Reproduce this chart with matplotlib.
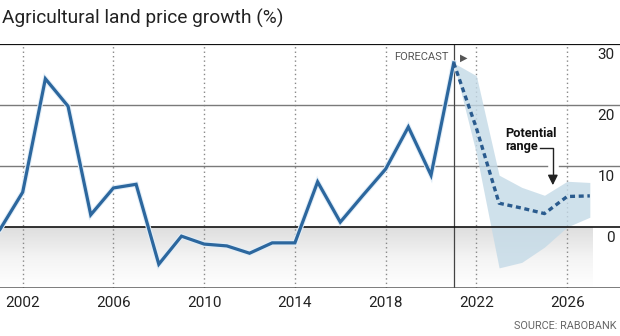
import matplotlib
matplotlib.use("Agg")
import matplotlib.pyplot as plt
import matplotlib.patheffects as pe
import numpy as np
from matplotlib.colors import LinearSegmentedColormap

# historical growth, % per year
years = [2001, 2002, 2003, 2004, 2005, 2006, 2007, 2008, 2009, 2010, 2011,
         2012, 2013, 2014, 2015, 2016, 2017, 2018, 2019, 2020, 2021]
growth = [-0.4, 5.7, 24.3, 19.8, 2.0, 6.4, 7.0, -6.1, -1.5, -2.8, -3.1,
          -4.3, -2.6, -2.6, 7.4, 0.8, 5.2, 9.5, 16.4, 8.5, 26.9]

# forecast and range
fc_years = [2021, 2022, 2023, 2024, 2025, 2026, 2027]
fc_mid = [26.9, 16.2, 3.9, 3.1, 2.2, 5.0, 5.1]
fc_low = [26.9, 12.0, -6.7, -5.8, -3.3, 0.0, 1.6]
fc_high = [26.9, 24.8, 8.5, 6.5, 5.2, 7.5, 7.3]

xticks = [2002, 2006, 2010, 2014, 2018, 2022, 2026]
yticks = [0, 10, 20, 30]

blue = "#2c679e"
font = ["Roboto", "DejaVu Sans"]

fig = plt.figure(figsize=(6.2, 3.36), dpi=100)
ax = fig.add_axes([0, 48 / 336, 1, 244 / 336])
ax.set_xlim(2001, 2028.33)
ax.set_ylim(-10, 30)
ax.axis("off")

# grey fade below zero
cmap = LinearSegmentedColormap.from_list("fade", ["#ffffff", "#f4f4f4", "#dedede"])
grad = np.linspace(0, 1, 100).reshape(-1, 1)
ax.imshow(grad, extent=[2001, 2027.1, -10, 0], cmap=cmap, aspect="auto",
          origin="lower", zorder=0)

# grid
for yr in xticks:
    ax.axvline(yr, color="#888888", lw=1, ls=(0, (1, 2.2)), zorder=1)
ax.axhline(20, color="#7a7a7a", lw=1, zorder=1)
ax.plot([2001, 2025.1], [10, 10], color="#7a7a7a", lw=1, zorder=1)
ax.plot([2025.65, 2028.33], [10, 10], color="#7a7a7a", lw=1, zorder=1)
ax.axhline(0, color="#111111", lw=1.2, zorder=3)
ax.axhline(30, color="#111111", lw=1.6, zorder=3)
ax.axhline(-10, color="#555555", lw=1.8, zorder=3)
ax.axvline(2021, color="#444444", lw=0.9, zorder=2)

# forecast range and lines
ax.fill_between(fc_years, fc_low, fc_high, color="#c4dae7", alpha=0.8,
                lw=0, zorder=2)
halo = [pe.Stroke(linewidth=3.8, foreground="#e2eef8"), pe.Normal()]
ax.plot(years, growth, color=blue, lw=2.3, solid_joinstyle="miter",
        path_effects=halo, zorder=4)
ax.plot(fc_years, fc_mid, color="#2a5b8e", lw=2.4, ls=(0, (1.5, 1.1)),
        zorder=4)

# right-hand value labels
for v in yticks:
    ax.annotate(str(v), (2028.33, v), xytext=(-4, -3), textcoords="offset points",
                ha="right", va="top", fontsize=11, color="#222222",
                family=font)
for yr in xticks:
    ax.annotate(str(yr), (yr, -10), xytext=(0, -6), textcoords="offset points",
                ha="center", va="top", fontsize=11, color="#222222",
                family=font)

ax.annotate("FORECAST", (2021, 30), xytext=(-4, -5.5), textcoords="offset points",
            ha="right", va="top", fontsize=8, color="#555555", family=font)
ax.annotate("\u25b6", (2021, 30), xytext=(4.5, -6), textcoords="offset points",
            ha="left", va="top", fontsize=7, color="#555555")

# callout
ax.text(2023.25, 14.3, "Potential\nrange", ha="left", va="center",
        fontsize=9.2, fontweight="bold", color="#111111", family=font,
        linespacing=0.95)
ax.plot([2024.8, 2025.37, 2025.37], [12.9, 12.9, 8.5], color="#222222", lw=1,
        zorder=5)
ax.annotate("", xy=(2025.37, 6.4), xytext=(2025.37, 8.8),
            arrowprops=dict(arrowstyle="-|>,head_width=0.3,head_length=0.6",
                            color="#222222", lw=1), zorder=5)

fig.text(0.003, 0.945, "Agricultural land price growth (%)", fontsize=13.8,
         color="#222222", ha="left", va="center", family=font)
fig.text(0.995, 0.03, "SOURCE: RABOBANK", fontsize=7.8, color="#666666",
         ha="right", va="center", family=font)

fig.savefig("out.png", dpi=100)
